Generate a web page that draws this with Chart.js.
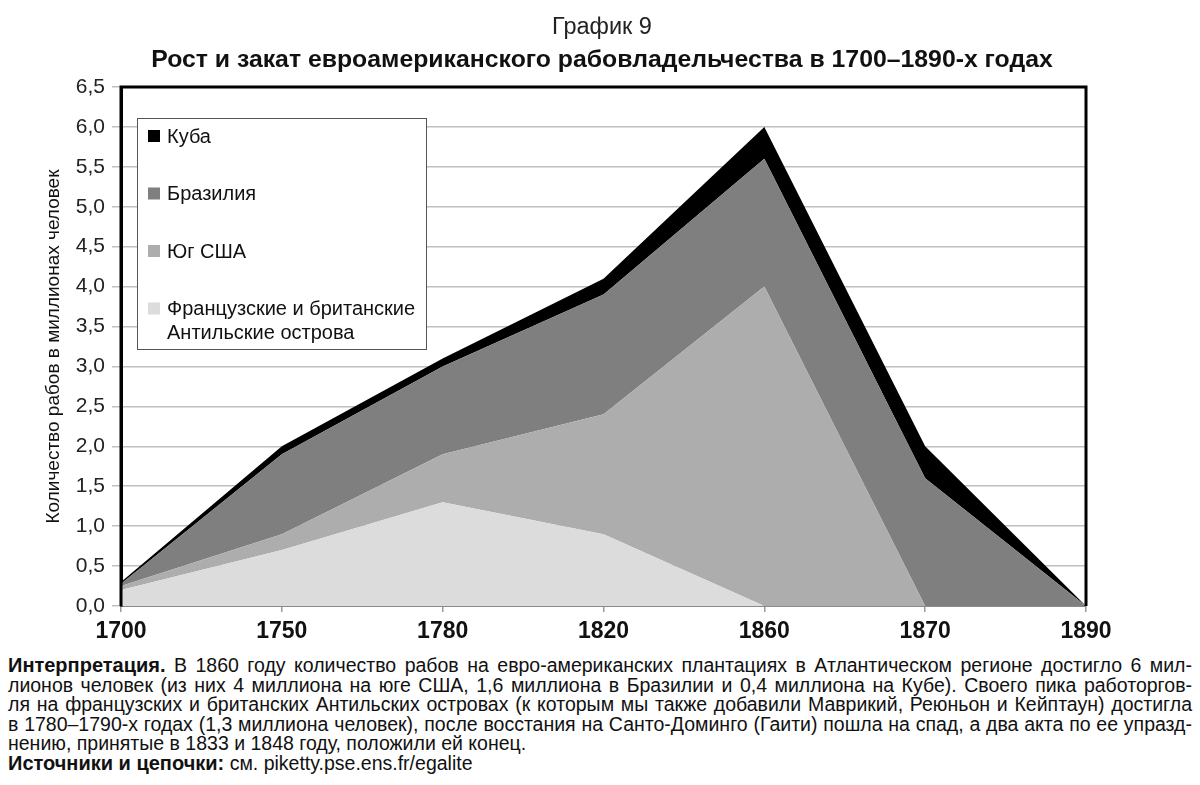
<!DOCTYPE html>
<html lang="ru">
<head>
<meta charset="utf-8">
<script src="https://cdn.jsdelivr.net/npm/chart.js@4.4.1/dist/chart.umd.min.js"></script>
<style>
  html, body { margin: 0; padding: 0; background: #fff; }
  body { width: 1200px; height: 785px; overflow: hidden; font-family: 'Liberation Sans', Arial, sans-serif; color: #111; }
  #wrap { position: relative; width: 1200px; height: 650px; }
  .ttl { position: absolute; left: 0; width: 1204px; text-align: center; white-space: nowrap; }
  #t1 { top: 13px; font-size: 23.5px; color: #222; }
  #t2 { top: 45px; font-size: 24.8px; font-weight: bold; }
  #note { position: absolute; left: 8px; top: 656px; width: 1184px; font-size: 19.5px; line-height: 19.6px; }
  #note .ln { white-space: nowrap; }
  #note b { font-size: 20px; }
</style>
</head>
<body>
<div id="wrap"><canvas id="chart"></canvas></div>
<div class="ttl" id="t1">График 9</div>
<div class="ttl" id="t2">Рост и закат евроамериканского рабовладельчества в 1700–1890-х годах</div>
<div id="note">
  <div class="ln jl"><span><b>Интерпретация.</b> В 1860 году количество рабов на евро-американских плантациях в Атлантическом регионе достигло 6 мил-</span></div>
  <div class="ln jl"><span>лионов человек (из них 4 миллиона на юге США, 1,6 миллиона в Бразилии и 0,4 миллиона на Кубе). Своего пика работоргов-</span></div>
  <div class="ln jl"><span>ля на французских и британских Антильских островах (к которым мы также добавили Маврикий, Реюньон и Кейптаун) достигла</span></div>
  <div class="ln jl"><span>в 1780–1790-х годах (1,3 миллиона человек), после восстания на Санто-Доминго (Гаити) пошла на спад, а два акта по ее упразд-</span></div>
  <div class="ln"><span>нению, принятые в 1833 и 1848 году, положили ей конец.</span></div>
  <div class="ln"><span><b>Источники и цепочки:</b> см. piketty.pse.ens.fr/egalite</span></div>
</div>
<script>
const years = ['1700', '1750', '1780', '1820', '1860', '1870', '1890'];
// millions of slaves, stacked bottom to top
const antilles = [0.2, 0.7, 1.3, 0.9, 0, 0, 0];
const usSouth = [0.05, 0.2, 0.6, 1.5, 4.0, 0, 0];
const brazil = [0.03, 1.0, 1.1, 1.5, 1.6, 1.6, 0];
const cuba = [0.02, 0.1, 0.1, 0.2, 0.4, 0.4, 0];

const FONT = "'Liberation Sans', Arial, sans-serif";

// justify the note lines by hand so they never rewrap
document.querySelectorAll('#note .jl').forEach((row) => {
  const span = row.firstElementChild;
  const spaces = (span.textContent.match(/ /g) || []).length;
  const extra = 1184 - span.getBoundingClientRect().width;
  if (spaces) row.style.wordSpacing = (extra / spaces) + 'px';
});

function area(label, data, color, fill) {
  return {
    label: label,
    data: data,
    backgroundColor: color,
    borderWidth: 0,
    pointRadius: 0,
    tension: 0,
    fill: fill,
  };
}

// legend box drawn inside the plot, items in reverse stack order
const boxLegend = {
  id: 'boxLegend',
  afterDraw(chart) {
    const ctx = chart.ctx;
    const a = chart.chartArea;
    const x = a.left + 16, y = a.top + 31;
    ctx.save();
    ctx.fillStyle = '#fff';
    ctx.fillRect(x, y, 289, 231);
    ctx.strokeStyle = '#555';
    ctx.lineWidth = 1;
    ctx.strokeRect(x + 0.5, y + 0.5, 289, 231);
    ctx.font = '20px ' + FONT;
    ctx.textBaseline = 'middle';
    const sets = chart.data.datasets.slice().reverse();
    sets.forEach((ds, i) => {
      const cy = y + 18 + i * 57.5;
      ctx.fillStyle = ds.backgroundColor;
      ctx.fillRect(x + 11, cy - 6, 12, 12);
      ctx.fillStyle = '#111';
      const lines = [].concat(ds.label);
      lines.forEach((t, k) => ctx.fillText(t, x + 30, cy + 1 + k * 24));
    });
    ctx.restore();
  },
};

// black frame on top, left and right of the plot
const frame = {
  id: 'frame',
  afterDatasetsDraw(chart) {
    const ctx = chart.ctx;
    const a = chart.chartArea;
    ctx.save();
    ctx.strokeStyle = '#000';
    ctx.lineWidth = 3;
    ctx.beginPath();
    ctx.moveTo(a.left, a.bottom);
    ctx.lineTo(a.left, a.top);
    ctx.lineTo(a.right, a.top);
    ctx.lineTo(a.right, a.bottom);
    ctx.stroke();
    ctx.restore();
  },
};

new Chart(document.getElementById('chart'), {
  type: 'line',
  plugins: [frame, boxLegend],
  data: {
    labels: years,
    datasets: [
      area(['Французские и британские', 'Антильские острова'], antilles, '#dcdcdc', 'origin'),
      area('Юг США', usSouth, '#adadad', '-1'),
      area('Бразилия', brazil, '#7f7f7f', '-1'),
      area('Куба', cuba, '#000000', '-1'),
    ],
  },
  options: {
    responsive: true,
    maintainAspectRatio: false,
    animation: false,
    layout: { padding: { top: 87, right: 114, left: 0, bottom: 0 } },
    plugins: {
      legend: { display: false },
      tooltip: { enabled: false },
    },
    scales: {
      x: {
        offset: false,
        afterFit(scale) { scale.height = 44; },
        grid: { drawOnChartArea: false, drawTicks: true, tickLength: 6, color: '#999', lineWidth: 1.5 },
        border: { color: '#8a8a8a', width: 2 },
        ticks: { color: '#111', font: { family: FONT, size: 23, weight: 'bold' }, padding: 6, maxRotation: 0 },
      },
      y: {
        stacked: true,
        min: 0,
        max: 6.5,
        afterFit(scale) { scale.width = 121; },
        grid: { color: '#c0c0c0', lineWidth: 1.5, tickLength: 9 },
        border: { color: '#000', width: 3 },
        ticks: {
          stepSize: 0.5,
          color: '#222',
          padding: 7,
          font: { family: FONT, size: 21 },
          callback: (v) => v.toFixed(1).replace('.', ','),
        },
        title: {
          display: true,
          text: 'Количество рабов в миллионах человек',
          color: '#111',
          font: { family: FONT, size: 19 },
          padding: { top: 42, bottom: 0 },
        },
      },
    },
  },
});
</script>
</body>
</html>
